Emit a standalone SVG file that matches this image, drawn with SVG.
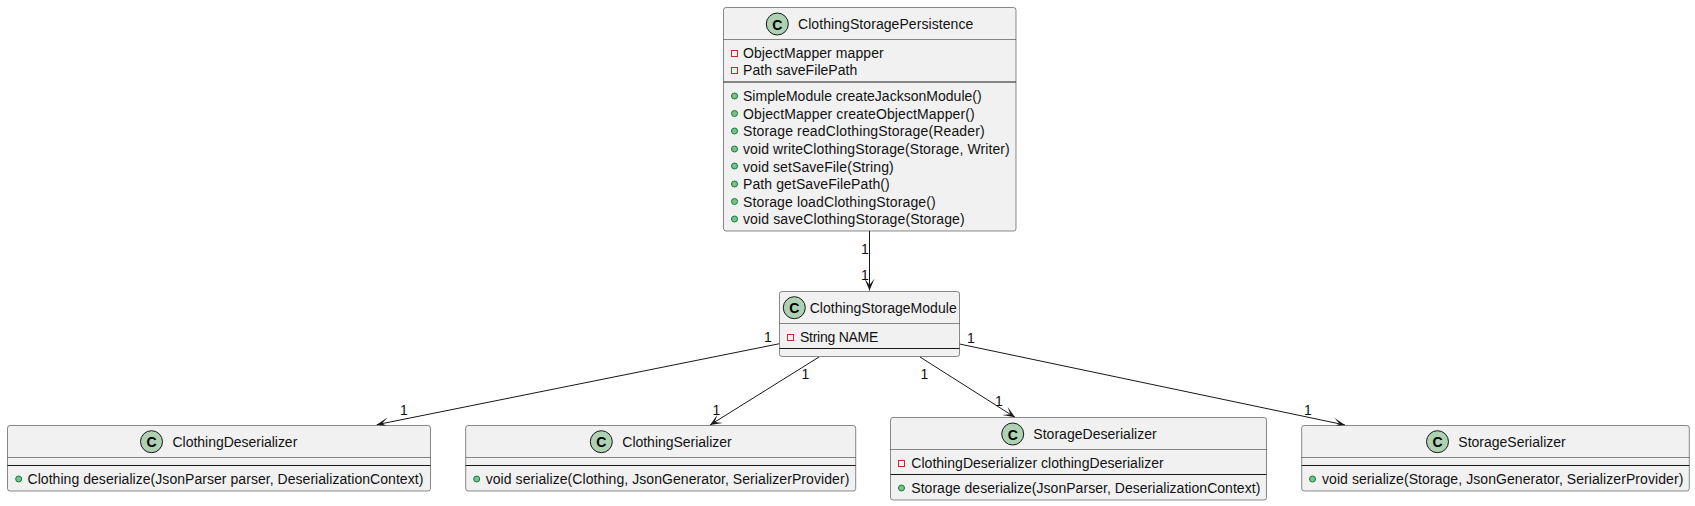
<svg xmlns="http://www.w3.org/2000/svg" width="1695" height="506" viewBox="0 0 1695 506">
<style>
text{font-family:"Liberation Sans",Arial,sans-serif;fill:#111}
.t,.m{font-size:14px}
.l{font-size:14px}
.b{fill:#F1F1F1;stroke:#181818;stroke-width:.5}
.s{stroke:#181818;stroke-width:.5;fill:none}
.d{stroke:#181818;stroke-width:1;fill:none}
.c{fill:#ADD1B2;stroke:#181818;stroke-width:1}
.k{font-size:14px;font-weight:bold;text-anchor:middle;fill:#000}
.p{fill:none;stroke:#C82930;stroke-width:1}
.u{fill:#84BE84;stroke:#038048;stroke-width:1}
.e{stroke:#181818;stroke-width:1;fill:none;marker-end:url(#a)}
</style>
<defs>
<marker id="a" markerUnits="userSpaceOnUse" markerWidth="16" markerHeight="14" refX="14" refY="7" orient="auto"><path d="M14,7 L2,2 L8.500,7 L2,12 Z" fill="#181818"/></marker>
</defs>
<g id="connectors">
<path class="e" d="M869.5,231 L869.5,290.5"/>
<path class="e" d="M779.5,343.7 L376.7,424.7"/>
<path class="e" d="M819,357 L710,425"/>
<path class="e" d="M920,357 L1015,417.3"/>
<path class="e" d="M959.5,344 L1345,425"/>
<text class="l" x="861" y="253.500">1</text>
<text class="l" x="861" y="280">1</text>
<text class="l" x="764" y="342">1</text>
<text class="l" x="400" y="415">1</text>
<text class="l" x="801.500" y="378.500">1</text>
<text class="l" x="712.500" y="415">1</text>
<text class="l" x="920.500" y="378.500">1</text>
<text class="l" x="995" y="406">1</text>
<text class="l" x="967" y="343">1</text>
<text class="l" x="1304" y="415">1</text>
</g>
<g id="ClothingStoragePersistence">
<rect class="b" x="723.5" y="7.5" width="292.5" height="223.5" rx="2.5"/>
<circle class="c" cx="777.3" cy="24" r="11"/><text class="k" x="777.3" y="29.500">C</text>
<text class="t" x="798" y="29" textLength="175.300">ClothingStoragePersistence</text>
<path class="s" d="M723.5,39.5H1016"/><path class="d" d="M723.5,82H1016"/>
<rect class="p" x="731.5" y="50.5" width="6" height="6"/><text class="m" x="743" y="58" textLength="140.700">ObjectMapper mapper</text>
<rect class="p" x="731.5" y="67.5" width="6" height="6"/><text class="m" x="743" y="75" textLength="114.300">Path saveFilePath</text>
<circle class="u" cx="734.5" cy="96" r="3"/><text class="m" x="743" y="101" textLength="238.700">SimpleModule createJacksonModule()</text>
<circle class="u" cx="734.5" cy="113.5" r="3"/><text class="m" x="743" y="118.5" textLength="231.700">ObjectMapper createObjectMapper()</text>
<circle class="u" cx="734.5" cy="131" r="3"/><text class="m" x="743" y="136" textLength="241.700">Storage readClothingStorage(Reader)</text>
<circle class="u" cx="734.5" cy="149" r="3"/><text class="m" x="743" y="154" textLength="266.700">void writeClothingStorage(Storage, Writer)</text>
<circle class="u" cx="734.5" cy="166" r="3"/><text class="m" x="743" y="171.500" textLength="150.700">void setSaveFile(String)</text>
<circle class="u" cx="734.5" cy="184" r="3"/><text class="m" x="743" y="189" textLength="146.700">Path getSaveFilePath()</text>
<circle class="u" cx="734.5" cy="201.500" r="3"/><text class="m" x="743" y="206.500" textLength="192.700">Storage loadClothingStorage()</text>
<circle class="u" cx="734.5" cy="219" r="3"/><text class="m" x="743" y="224" textLength="221.700">void saveClothingStorage(Storage)</text>
</g>
<g id="ClothingStorageModule">
<rect class="b" x="779.5" y="291.500" width="180" height="65" rx="2.5"/>
<circle class="c" cx="794.3" cy="307.700" r="11"/><text class="k" x="794.3" y="313.200">C</text>
<text class="t" x="809.700" y="313" textLength="147">ClothingStorageModule</text>
<path class="s" d="M779.5,323.500H959.500"/><path class="d" d="M779.5,348.500H959.500"/>
<rect class="p" x="787.5" y="334.500" width="6" height="6"/><text class="m" x="800" y="342" textLength="78.300">String NAME</text>
</g>
<g id="ClothingDeserializer">
<rect class="b" x="7.500" y="425.500" width="423" height="65.500" rx="2.5"/>
<circle class="c" cx="151.500" cy="441.700" r="11"/><text class="k" x="151.500" y="447.200">C</text>
<text class="t" x="172.500" y="447" textLength="124.800">ClothingDeserializer</text>
<path class="s" d="M7.500,457.500H430.500"/><path class="d" d="M7.500,465.500H430.500"/>
<circle class="u" cx="18.700" cy="479" r="3"/><text class="m" x="27.500" y="484" textLength="395.800">Clothing deserialize(JsonParser parser, DeserializationContext)</text>
</g>
<g id="ClothingSerializer">
<rect class="b" x="465.700" y="425.500" width="390" height="65.500" rx="2.5"/>
<circle class="c" cx="601.300" cy="441.700" r="11"/><text class="k" x="601.300" y="447.200">C</text>
<text class="t" x="622.300" y="447" textLength="109.400">ClothingSerializer</text>
<path class="s" d="M465.700,457.500H855.700"/><path class="d" d="M465.700,465.500H855.700"/>
<circle class="u" cx="476.700" cy="479" r="3"/><text class="m" x="485.700" y="484" textLength="363.600">void serialize(Clothing, JsonGenerator, SerializerProvider)</text>
</g>
<g id="StorageDeserializer">
<rect class="b" x="890.500" y="417.500" width="376" height="82.500" rx="2.5"/>
<circle class="c" cx="1012.700" cy="434" r="11"/><text class="k" x="1012.700" y="439.500">C</text>
<text class="t" x="1033.300" y="439" textLength="123.400">StorageDeserializer</text>
<path class="s" d="M890.500,449.500H1266.500"/><path class="d" d="M890.500,474.500H1266.500"/>
<rect class="p" x="898.500" y="460.500" width="6" height="6"/><text class="m" x="911.300" y="468" textLength="252.400">ClothingDeserializer clothingDeserializer</text>
<circle class="u" cx="901.500" cy="488" r="3"/><text class="m" x="911.300" y="493" textLength="349">Storage deserialize(JsonParser, DeserializationContext)</text>
</g>
<g id="StorageSerializer">
<rect class="b" x="1301.700" y="425.500" width="387.600" height="65.500" rx="2.5"/>
<circle class="c" cx="1437.500" cy="441.700" r="11"/><text class="k" x="1437.500" y="447.200">C</text>
<text class="t" x="1458.300" y="447" textLength="107.400">StorageSerializer</text>
<path class="s" d="M1301.700,457.500H1689.300"/><path class="d" d="M1301.700,465.500H1689.300"/>
<circle class="u" cx="1312.500" cy="479" r="3"/><text class="m" x="1322" y="484" textLength="361.300">void serialize(Storage, JsonGenerator, SerializerProvider)</text>
</g>
</svg>
